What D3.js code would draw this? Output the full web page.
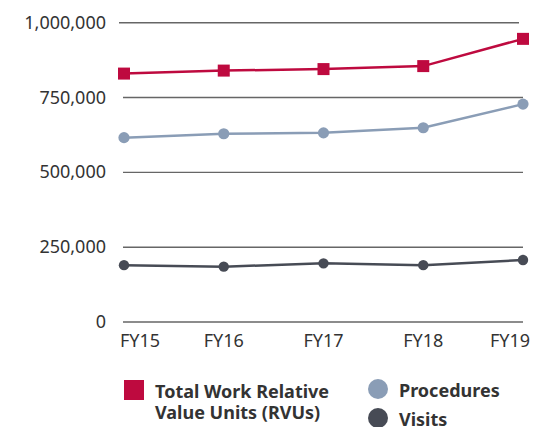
<!doctype html>
<html>
<head>
  <script src="https://cdnjs.cloudflare.com/ajax/libs/d3/7.8.5/d3.min.js"></script>
  <style>
    body { margin: 0; background: #fff; }
    svg { display: block; font-family: "Noto Sans", sans-serif; }
  </style>
</head>
<body>
  <svg width="542" height="427"></svg>
  <script>
    var years = ["FY15", "FY16", "FY17", "FY18", "FY19"];
    var rvus = [830000, 840000, 845000, 855000, 946000];
    var procedures = [616000, 629000, 632000, 649000, 728000];
    var visits = [190000, 185000, 196000, 190000, 207000];
    var yTicks = [0, 250000, 500000, 750000, 1000000];

    var svg = d3.select("svg");

    var x = d3.scalePoint().domain(years).range([124, 523]);
    var y = d3.scaleLinear().domain([0, 1000000]).range([322, 22.7]);

    // gridlines (top one sits a little to the left in the original)
    svg.selectAll("line.grid")
      .data(yTicks)
      .enter()
      .append("line")
      .attr("class", "grid")
      .attr("x1", (d, i) => i == yTicks.length - 1 ? 119 : 123)
      .attr("x2", (d, i) => i == yTicks.length - 1 ? 519 : 523)
      .attr("y1", d => y(d))
      .attr("y2", d => y(d))
      .attr("stroke", "#666")
      .attr("stroke-width", 1.4)

    svg.selectAll("text.ylab")
      .data(yTicks)
      .enter()
      .append("text")
      .attr("class", "ylab")
      .attr("x", 106)
      .attr("y", d => y(d) + 6)
      .attr("text-anchor", "end")
      .attr("font-size", 18)
      .attr("fill", "#333")
      .text(d => d3.format(",")(d))

    svg.selectAll("text.xlab")
      .data(years)
      .enter()
      .append("text")
      .attr("class", "xlab")
      .attr("x", (d, i) => i == 0 ? x(d) - 4 : i == years.length - 1 ? x(d) + 7 : x(d))
      .attr("y", 347)
      .attr("text-anchor", (d, i) => i == 0 ? "start" : i == years.length - 1 ? "end" : "middle")
      .attr("font-size", 18)
      .attr("fill", "#333")
      .text(d => d)

    var line = d3.line().x((d, i) => x(years[i])).y(d => y(d));

    function drawSeries(vals, color, shape, r) {
      svg.append("path")
        .datum(vals)
        .attr("d", line)
        .attr("fill", "none")
        .attr("stroke", color)
        .attr("stroke-width", 2.5)
      if (shape == "square") {
        svg.selectAll(null)
          .data(vals)
          .enter()
          .append("rect")
          .attr("x", (d, i) => x(years[i]) - r)
          .attr("y", d => y(d) - r)
          .attr("width", r * 2)
          .attr("height", r * 2)
          .attr("fill", color)
      } else {
        svg.selectAll(null)
          .data(vals)
          .enter()
          .append("circle")
          .attr("cx", (d, i) => x(years[i]))
          .attr("cy", d => y(d))
          .attr("r", r)
          .attr("fill", color)
      }
    }

    drawSeries(visits, "#474b55", "circle", 5.2);
    drawSeries(procedures, "#8a9db6", "circle", 5.6);
    drawSeries(rvus, "#be0a3f", "square", 6);

    // legend
    var leg = svg.append("g").attr("font-size", 18).attr("font-weight", "bold").attr("fill", "#333");
    leg.append("rect").attr("x", 124).attr("y", 380).attr("width", 20).attr("height", 20).attr("fill", "#be0a3f");
    leg.append("text").attr("x", 155).attr("y", 398).text("Total Work Relative");
    leg.append("text").attr("x", 155).attr("y", 419).text("Value Units (RVUs)");
    leg.append("circle").attr("cx", 378).attr("cy", 389).attr("r", 10).attr("fill", "#8a9db6");
    leg.append("text").attr("x", 399).attr("y", 397).text("Procedures");
    leg.append("circle").attr("cx", 378).attr("cy", 418).attr("r", 10).attr("fill", "#474b55");
    leg.append("text").attr("x", 399).attr("y", 426).text("Visits");
  </script>
</body>
</html>
